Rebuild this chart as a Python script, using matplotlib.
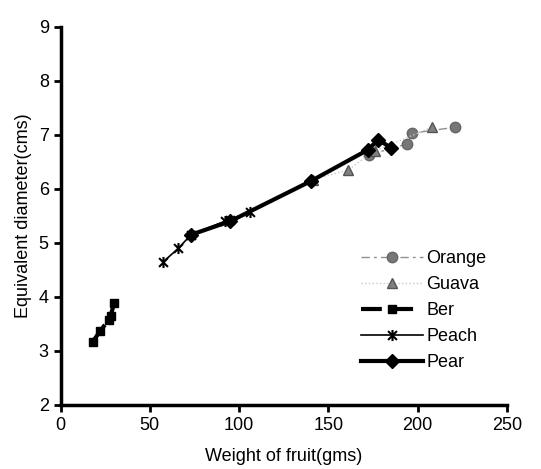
import matplotlib
matplotlib.use('Agg')
import matplotlib.pyplot as plt
from matplotlib.path import Path
import numpy as np

plt.rcParams['font.family'] = ['Liberation Sans', 'DejaVu Sans']

# data
orange_x = [173, 194, 197, 221]
orange_y = [6.63, 6.83, 7.03, 7.14]
guava_x = [141.6, 161, 176, 208]
guava_y = [6.17, 6.35, 6.70, 7.14]
ber_x = [18, 22, 27, 28, 30]
ber_y = [3.17, 3.36, 3.58, 3.65, 3.88]
peach_x = [57.5, 66, 73, 92, 95, 106]
peach_y = [4.65, 4.90, 5.15, 5.40, 5.43, 5.58]
pear_x = [73, 95, 140, 172, 178, 185]
pear_y = [5.15, 5.40, 6.14, 6.72, 6.91, 6.76]

xticks = [0, 50, 100, 150, 200, 250]
yticks = [2, 3, 4, 5, 6, 7, 8, 9]

# asterisk marker (x with a vertical bar)
star = Path([(0, -1), (0, 1), (-0.8, -0.8), (0.8, 0.8), (-0.8, 0.8), (0.8, -0.8)],
            [Path.MOVETO, Path.LINETO, Path.MOVETO, Path.LINETO, Path.MOVETO, Path.LINETO])

fig = plt.figure(figsize=(5.41, 4.69), dpi=100)
ax = fig.add_axes([0.112, 0.1365, 0.825, 0.8065])

ax.plot(orange_x, orange_y, color='#909090', lw=1, ls=(0, (6, 3, 2, 3)),
        marker='o', ms=7.5, mfc='#777777', mec='#666666', label='Orange')
ax.plot(guava_x, guava_y, color='#c8c8c8', lw=1, ls=':',
        marker='^', ms=7.5, mfc='#808080', mec='#555555', label='Guava')
ax.plot(ber_x, ber_y, color='black', lw=3, ls=(0, (5, 2.5)),
        marker='s', ms=5.5, mfc='black', mec='black', label='Ber')
ax.plot(peach_x, peach_y, color='black', lw=1.2,
        marker=star, ms=8, mfc='none', mec='black', mew=1.5, label='Peach')
ax.plot(pear_x, pear_y, color='black', lw=3,
        marker='D', ms=7, mfc='black', mec='black', label='Pear')

ax.set_xlim(0, 250)
ax.set_ylim(2, 9)
ax.set_xticks(xticks)
ax.set_yticks(yticks)
ax.tick_params(labelsize=13, width=2, length=5, direction='out')
for s in ['top', 'right']:
    ax.spines[s].set_visible(False)
for s in ['left', 'bottom']:
    ax.spines[s].set_linewidth(2.5)

ax.set_xlabel('Weight of fruit(gms)', fontsize=13, labelpad=10)
ax.set_ylabel('Equivalent diameter(cms)', fontsize=13, labelpad=5)

ax.legend(loc='upper left', bbox_to_anchor=(345 / 541, 1 - 234 / 469),
          bbox_transform=fig.transFigure, frameon=False, fontsize=13,
          handlelength=3.4, handletextpad=0.2, labelspacing=0.5)

fig.savefig('out.png', dpi=100)
